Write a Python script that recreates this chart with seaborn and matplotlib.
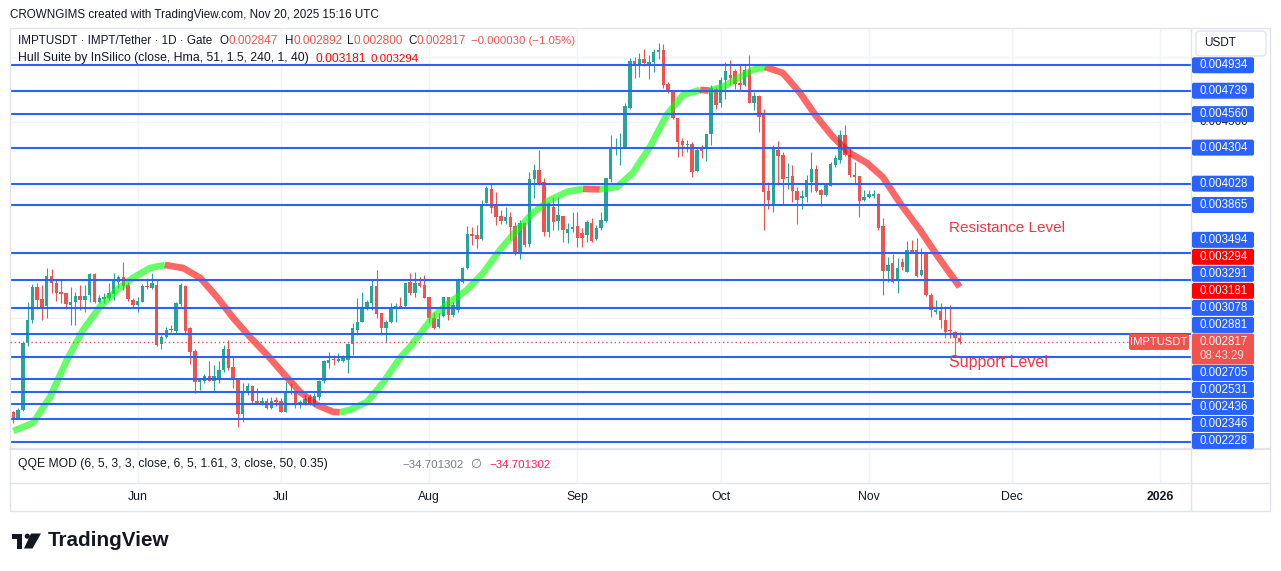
import numpy as np
import pandas as pd
import matplotlib
matplotlib.use("Agg")
import matplotlib.pyplot as plt
import seaborn as sns
from matplotlib.patches import FancyBboxPatch, Rectangle, Circle, Polygon

# ---------------- data (prices in 1e-6 USDT) ----------------
start_date = "2025-05-06"
opens = [2279, 2233, 2297, 2807, 2985, 3240, 3145, 3095, 3322, 3270,
         3202, 3189, 3100, 3125, 3171, 3138, 3176, 3336, 3125, 3143,
         3156, 3181, 3278, 3311, 3253, 3138, 3100, 3125, 3245, 3227,
         3253, 2799, 2858, 2916, 2901, 3110, 3248, 2927, 2750, 2512,
         2522, 2560, 2521, 2530, 2603, 2761, 2626, 2544, 2264, 2425,
         2481, 2369, 2348, 2366, 2315, 2374, 2369, 2284, 2445, 2432,
         2348, 2348, 2399, 2335, 2399, 2519, 2659, 2684, 2674, 2674,
         2679, 2799, 2909, 2972, 3074, 3112, 3245, 3036, 2927, 2972,
         3067, 3092, 3092, 3278, 3189, 3265, 3253, 3163, 3000, 2934,
         3016, 3158, 3023, 3062, 3278, 3380, 3640, 3635, 3602, 3877,
         3984, 3859, 3780, 3742, 3770, 3704, 3495, 3729, 3566, 4060,
         4132, 4042, 3660, 3851, 3744, 3780, 3653, 3678, 3704, 3648,
         3635, 3724, 3602, 3686, 3745, 4063, 4298, 4300, 4298, 4609,
         4965, 4930, 4978, 4930, 4960, 5032, 5049, 4787, 4726, 4527,
         4354, 4323, 4331, 4127, 4298, 4298, 4405, 4756, 4642, 4820,
         4858, 4889, 4795, 4782, 4897, 4642, 4700, 4555, 3971, 3869,
         4285, 4246, 4073, 4086, 3971, 3915, 3928, 4042, 4139, 3979,
         3940, 4012, 4170, 4208, 4404, 4251, 4098, 4086, 3902, 3928,
         3935, 3948, 3704, 3360, 3418, 3291, 3431, 3354, 3520, 3520,
         3329, 3502, 3176, 3049, 3054, 2985, 2909, 2896, 2847]
highs = [2290, 2310, 2825, 3120, 3258, 3265, 3253, 3380, 3375, 3299,
         3291, 3194, 3240, 3202, 3253, 3253, 3342, 3347, 3176, 3189,
         3265, 3342, 3329, 3431, 3278, 3156, 3163, 3258, 3304, 3347,
         3296, 2870, 2934, 2947, 3125, 3265, 3253, 2935, 2760, 2540,
         2570, 2672, 2640, 2670, 2794, 2832, 2705, 2544, 2501, 2501,
         2488, 2463, 2399, 2386, 2399, 2399, 2386, 2514, 2506, 2442,
         2374, 2417, 2417, 2425, 2527, 2679, 2743, 2718, 2730, 2718,
         2807, 2960, 3151, 3202, 3138, 3291, 3367, 3036, 2985, 3112,
         3113, 3163, 3270, 3342, 3349, 3316, 3329, 3163, 3049, 3036,
         3163, 3163, 3125, 3304, 3393, 3704, 3693, 3711, 3902, 4009,
         4035, 3961, 3826, 3851, 3808, 3737, 3750, 3737, 4119, 4178,
         4285, 4068, 3890, 3923, 3928, 3780, 3724, 3813, 3813, 3686,
         3750, 3763, 3712, 3814, 4068, 4400, 4379, 4412, 4642, 4991,
         4998, 5024, 5057, 5011, 5057, 5108, 5093, 4807, 4730, 4530,
         4374, 4361, 4344, 4310, 4323, 4410, 4782, 4769, 4846, 4960,
         4973, 4904, 4947, 4940, 5016, 4726, 4710, 4600, 4042, 4323,
         4353, 4272, 4183, 4170, 4004, 3979, 4098, 4272, 4170, 3991,
         4020, 4195, 4251, 4437, 4476, 4310, 4195, 4090, 3979, 3979,
         3979, 3953, 3762, 3469, 3487, 3456, 3461, 3589, 3597, 3609,
         3533, 3507, 3189, 3138, 3112, 3094, 3100, 2900, 2892]
lows = [2200, 2228, 2292, 2789, 2960, 3067, 2985, 2998, 3189, 3130,
        3112, 3069, 2947, 2947, 3062, 3044, 3125, 3112, 3112, 3112,
        3138, 3138, 3232, 3214, 3133, 3074, 3044, 3120, 3220, 3222,
        2789, 2763, 2845, 2891, 2876, 3095, 2880, 2645, 2425, 2450,
        2505, 2515, 2432, 2505, 2590, 2603, 2468, 2170, 2208, 2412,
        2348, 2348, 2335, 2305, 2305, 2330, 2279, 2279, 2417, 2315,
        2315, 2335, 2335, 2330, 2374, 2501, 2616, 2641, 2662, 2662,
        2577, 2718, 2870, 2972, 3062, 3062, 3003, 2870, 2814, 2965,
        2972, 3074, 3087, 3176, 3163, 3240, 3151, 2972, 2913, 2921,
        3011, 2985, 3011, 3049, 3265, 3372, 3558, 3533, 3597, 3877,
        3800, 3711, 3719, 3719, 3597, 3482, 3451, 3541, 3546, 3915,
        4017, 3627, 3622, 3673, 3673, 3584, 3571, 3660, 3541, 3546,
        3584, 3584, 3597, 3673, 3737, 4043, 4247, 4170, 4298, 4598,
        4838, 4846, 4930, 4825, 4884, 4981, 4761, 4720, 4522, 4234,
        4242, 4272, 4081, 4119, 4221, 4203, 4323, 4603, 4616, 4675,
        4782, 4756, 4743, 4775, 4642, 4591, 4420, 3673, 3833, 3808,
        4017, 3869, 3986, 3884, 3716, 3833, 3884, 3966, 3961, 3859,
        3935, 4010, 4157, 4183, 4241, 4081, 4030, 3775, 3895, 3915,
        3915, 3673, 3176, 3278, 3265, 3189, 3367, 3350, 3495, 3316,
        3325, 3170, 3011, 3028, 2921, 2845, 2845, 2705, 2800]
closes = [2233, 2297, 2807, 2985, 3240, 3138, 3074, 3322, 3265, 3194,
          3181, 3107, 3125, 3171, 3138, 3171, 3336, 3125, 3156, 3163,
          3189, 3291, 3311, 3248, 3143, 3100, 3130, 3248, 3237, 3265,
          2794, 2858, 2909, 2909, 3113, 3250, 2900, 2743, 2512, 2530,
          2560, 2519, 2560, 2605, 2763, 2616, 2534, 2264, 2432, 2481,
          2366, 2353, 2369, 2315, 2369, 2361, 2284, 2442, 2425, 2340,
          2361, 2381, 2343, 2407, 2519, 2672, 2679, 2677, 2684, 2697,
          2799, 2927, 2972, 3074, 3125, 3245, 3028, 2927, 2972, 3082,
          3092, 3087, 3265, 3189, 3265, 3248, 3156, 2998, 2921, 2990,
          3163, 3023, 3100, 3291, 3380, 3642, 3627, 3604, 3869, 3992,
          3844, 3775, 3744, 3770, 3693, 3487, 3724, 3558, 4060, 4132,
          4025, 3660, 3877, 3737, 3788, 3673, 3678, 3699, 3609, 3610,
          3737, 3592, 3686, 3750, 4068, 4310, 4310, 4306, 4624, 4965,
          4930, 4981, 4955, 4960, 5032, 5049, 4782, 4726, 4527, 4349,
          4323, 4333, 4119, 4285, 4277, 4405, 4761, 4629, 4820, 4889,
          4833, 4787, 4782, 4897, 4649, 4700, 4540, 3966, 3902, 4292,
          4241, 4063, 4081, 3971, 3902, 3933, 4055, 4139, 3971, 3940,
          4017, 4175, 4226, 4404, 4246, 4093, 4081, 3895, 3928, 3946,
          3946, 3686, 3360, 3405, 3278, 3385, 3393, 3520, 3507, 3324,
          3367, 3176, 3061, 3061, 2985, 2896, 2901, 2847, 2817]

# Hull Suite band (day index from start_date, value)
hull_day = [0, 4.1, 7.7, 11.2, 14.6, 18.1, 21.7, 25.0, 28.6, 31.7,
            35.5, 39.1, 42.6, 46.0, 49.5, 53.1, 56.4, 60.0, 63.5, 66.9,
            68.3, 70.4, 74.0, 77.3, 80.9, 83.0, 87.8, 91.4, 94.9, 98.3,
            101.8, 105.4, 108.7, 112.3, 115.8, 119.2, 122.7, 126.3, 129.6, 133.2,
            136.7, 140.1, 143.7, 145.5, 148.5, 152.0, 154.7, 157.3, 161.0, 164.6,
            168.1, 171.5, 175.0, 178.6, 181.9, 185.5, 189.7, 193.2, 198]
hull_val = [2136, 2197, 2396, 2679, 2909, 3085, 3215, 3307, 3383, 3406,
            3383, 3307, 3161, 3001, 2855, 2718, 2580, 2435, 2335, 2282,
            2279, 2297, 2358, 2503, 2695, 2779, 3008, 3123, 3215, 3345,
            3521, 3674, 3804, 3904, 3965, 3988, 3984, 4003, 4110, 4309,
            4554, 4707, 4745, 4741, 4768, 4844, 4898, 4921, 4875, 4722,
            4538, 4385, 4263, 4186, 4079, 3880, 3674, 3483, 3238]

level_prices = [4934, 4739, 4560, 4304, 4028, 3865, 3494, 3291, 3078, 2881,
                2705, 2531, 2436, 2346, 2228, 2053]
hull_last = [3181, 3294]
last_close = 2817
grid_prices = [2500, 3000, 3500, 4000, 4500, 5000]
month_starts = ["2025-06-01", "2025-07-01", "2025-08-01", "2025-09-01",
                "2025-10-01", "2025-11-01", "2025-12-01", "2026-01-01"]
month_labels = ["Jun", "Jul", "Aug", "Sep", "Oct", "Nov", "Dec", "2026"]

header = "CROWNGIMS created with TradingView.com, Nov 20, 2025 15:16 UTC"
symbol_text = "IMPTUSDT · IMPT/Tether · 1D · Gate"
ohlc_text = [("O", "0.002847"), ("H", "0.002892"), ("L", "0.002800"), ("C", "0.002817")]
change_text = "\u22120.000030 (\u22121.05%)"
hull_text = "Hull Suite by InSilico (close, Hma, 51, 1.5, 240, 1, 40)"
qqe_text = "QQE MOD (6, 5, 3, 3, close, 6, 5, 1.61, 3, close, 50, 0.35)"
qqe_value = "\u221234.701302"
countdown = "08:43:29"

# ---------------- styling ----------------
sns.set_theme(style="white")
plt.rcParams['font.family'] = ['Liberation Sans', 'DejaVu Sans']

W, H = 1281, 571
fig = plt.figure(figsize=(W / 100, H / 100), dpi=100)
fig.patch.set_facecolor("white")
renderer = fig.canvas.get_renderer()

TXT = "#131722"
BLUE = "#2962ff"
UP = "#26a69a"
DN = "#ef5350"
GRID = "#f0f3fa"
FRAME = "#e0e3eb"

ax = fig.add_axes([10 / W, 1 - 449 / H, (1191 - 10) / W, (449 - 28) / H])
ax.set_xlim(-0.69, 246.4)
ax.set_ylim(1998, 5219)
ax.axis("off")

qax = fig.add_axes([10 / W, 1 - 483 / H, (1191 - 10) / W, (483 - 449) / H])
qax.set_xlim(-0.69, 246.4)
qax.set_ylim(0, 1)
qax.axis("off")

start = pd.Timestamp(start_date)
days = np.arange(len(opens))
month_days = [(pd.Timestamp(m) - start).days for m in month_starts]

# grid
for p in grid_prices:
    ax.axhline(p, color=GRID, lw=1, zorder=0)
for d in month_days:
    ax.axvline(d, color=GRID, lw=1, zorder=0)
    qax.axvline(d, color=GRID, lw=1, zorder=0)

# candles
o = np.array(opens, float); h = np.array(highs, float)
l = np.array(lows, float); c = np.array(closes, float)
cols = np.where(c >= o, UP, DN)
ax.vlines(days, l, h, colors=cols, lw=0.8, zorder=2)
bottom = np.minimum(o, c)
height = np.maximum(np.abs(c - o), 8)
ax.bar(days, height, bottom=bottom, width=0.72, color=cols, zorder=3, linewidth=0)

# Hull band, coloured by direction
hx = np.array(hull_day); hv = np.array(hull_val, float)
seg_up = np.diff(hv) >= 0
runs = []
s = 0
for k in range(1, len(seg_up) + 1):
    if k == len(seg_up) or seg_up[k] != seg_up[s]:
        runs.append((s, k, seg_up[s]))
        s = k
for a, b, up in runs:
    sns.lineplot(x=hx[a:b + 1], y=hv[a:b + 1], ax=ax, sort=False, estimator=None,
                 color="#00ff00" if up else "#ff0000", alpha=0.6, linewidth=4.8,
                 solid_capstyle="butt", solid_joinstyle="round", zorder=4)

# horizontal levels
ax.hlines(level_prices, -0.69, 246.4, colors=BLUE, lw=1.5, zorder=5)

# ---------------- overlay in pixel coordinates ----------------
ov = fig.add_axes([0, 0, 1, 1], zorder=10)
ov.set_xlim(0, W); ov.set_ylim(H, 0); ov.axis("off"); ov.patch.set_alpha(0)


def px_x(d):
    return ax.transData.transform((d, 0))[0]


def px_y(p):
    return H - ax.transData.transform((0, p))[1]


def width(t):
    return t.get_window_extent(renderer=renderer).width


def fit(t, target):
    t.set_fontsize(t.get_fontsize() * target / width(t))
    return t


# frame
ov.add_patch(Rectangle((10, 28), 1260, 483, fill=False, ec=FRAME, lw=1))
ov.plot([1191, 1191], [28, 511], color=FRAME, lw=1)
ov.plot([10, 1270], [449, 449], color=FRAME, lw=1.6)
ov.plot([10, 1270], [483, 483], color=FRAME, lw=1)

# texts top
FS = 9.0
fit(ov.text(10, 15, header, fontsize=FS, color=TXT, va="center", ha="left"), 368)
sym = fit(ov.text(18, 41.5, symbol_text, fontsize=FS, color=TXT, va="center"), 194)
LFS = sym.get_fontsize()
ox = [219.6, 284.5, 347, 408]
for (k, v), x in zip(ohlc_text, ox):
    lt = ov.text(x, 41.5, k, fontsize=LFS, color=TXT, va="center")
    vx = x + width(lt) + 0.3
    fit(ov.text(vx, 41.5, v, fontsize=FS, color=DN, va="center"), 49)
fit(ov.text(471.4, 41.5, change_text, fontsize=FS, color=DN, va="center"), 104)
fit(ov.text(18, 58.5, hull_text, fontsize=FS, color=TXT, va="center"), 289)
fit(ov.text(315, 58.5, f"{hull_last[0] / 1e6:.6f}", fontsize=FS, color="#ff0000",
            va="center"), 50)
fit(ov.text(370.6, 58.5, f"{hull_last[1] / 1e6:.6f}", fontsize=FS, color="#ff0000",
            va="center"), 48)

# annotations
fit(ov.text(949, 228, "Resistance Level", fontsize=11.3, color="#f23645", va="center"), 117)
fit(ov.text(949, 362, "Support Level", fontsize=11.3, color="#f23645", va="center"), 99)

# QQE pane text
fit(ov.text(18, 464.5, qqe_text, fontsize=FS, color=TXT, va="center"), 308)
fit(ov.text(402, 464.5, qqe_value, fontsize=FS, color="#787b86", va="center"), 61)
ov.text(470, 464.5, "\u2205", fontsize=FS, color="#787b86", va="center",
        family=["DejaVu Sans"])
fit(ov.text(489, 464.5, qqe_value, fontsize=FS, color="#ff1f5a", va="center"), 61)

# time axis
for d, lab in zip(month_days, month_labels):
    ov.text(px_x(d), 497, lab, fontsize=8.8, color=TXT, ha="center", va="center",
            fontweight="bold" if lab == "2026" else "normal")

# current price dotted line
cy = px_y(last_close)
ov.plot([10, 1129], [cy, cy], color=DN, lw=1, ls=(0, (1, 2)))
ov.add_patch(FancyBboxPatch((1129, cy - 8), 60, 16, boxstyle="round,pad=0,rounding_size=2",
                            fc=DN, ec="none", zorder=3))
ov.text(1159, cy, "IMPTUSDT", fontsize=8.1, color="white", ha="center", va="center", zorder=4)

# stacked price labels
labels = [(p, BLUE) for p in level_prices] + [(p, "#ff0000") for p in hull_last]
above = sorted([t for t in labels if t[0] > last_close], key=lambda t: t[0])
below = sorted([t for t in labels if t[0] <= last_close], key=lambda t: -t[0])
BH, STEP = 16, 17
placed = []
prev = cy
for p, col in above:
    y = min(px_y(p), prev - STEP)
    placed.append((p, col, y)); prev = y
prev = cy + 14
for p, col in below:
    y = max(px_y(p), prev + STEP)
    placed.append((p, col, y)); prev = y
shown = [(p, col, y) for p, col, y in placed if y <= 445]
box_ys = [y for _, _, y in shown] + [cy, cy + 14]

# price axis grid labels (partly hidden behind markers)
for p in grid_prices:
    y = px_y(p)
    if 60 < y < 445 and min(abs(y - by) for by in box_ys) >= 7.5:
        ov.text(1200, y, f"{p / 1e6:.6f}", fontsize=8.3, color=TXT, va="center", zorder=1)

for p, col, y in shown:
    ov.add_patch(FancyBboxPatch((1192, y - BH / 2), 62, BH,
                                boxstyle="round,pad=0,rounding_size=2",
                                fc=col, ec="none", zorder=2))
    ov.text(1200, y, f"{p / 1e6:.6f}", fontsize=8.3, color="white", va="center", zorder=3)

# current price box
ov.add_patch(FancyBboxPatch((1192, cy - 8.5), 62, 31, boxstyle="round,pad=0,rounding_size=2",
                            fc=DN, ec="none", zorder=2))
ov.text(1200, cy, f"{last_close / 1e6:.6f}", fontsize=8.3, color="white", va="center", zorder=3)
ov.text(1200, cy + 14, countdown, fontsize=8.3, color="#ffd9d9", va="center", zorder=3)

# USDT box
ov.add_patch(FancyBboxPatch((1196, 31), 70, 25, boxstyle="round,pad=0,rounding_size=4",
                            fc="white", ec=FRAME, lw=1, zorder=4))
ov.text(1204, 43.5, "USDT", fontsize=8.5, color=TXT, va="center", zorder=5)

# TradingView logo
ov.add_patch(Rectangle((11.5, 533.5), 10.5, 5, fc=TXT, ec="none"))
ov.add_patch(Rectangle((17.0, 533.5), 5, 15, fc=TXT, ec="none"))
ov.add_patch(Circle((27.3, 536.2), 2.6, fc=TXT, ec="none"))
ov.add_patch(Polygon([(31.0, 533.5), (41.0, 533.5), (32.5, 548.5), (24.0, 548.5)],
                     closed=True, fc=TXT, ec="none"))
fit(ov.text(48, 541, "TradingView", fontsize=14.3, fontweight="bold", color=TXT, va="center"), 122)

fig.savefig("out.png", dpi=100)
